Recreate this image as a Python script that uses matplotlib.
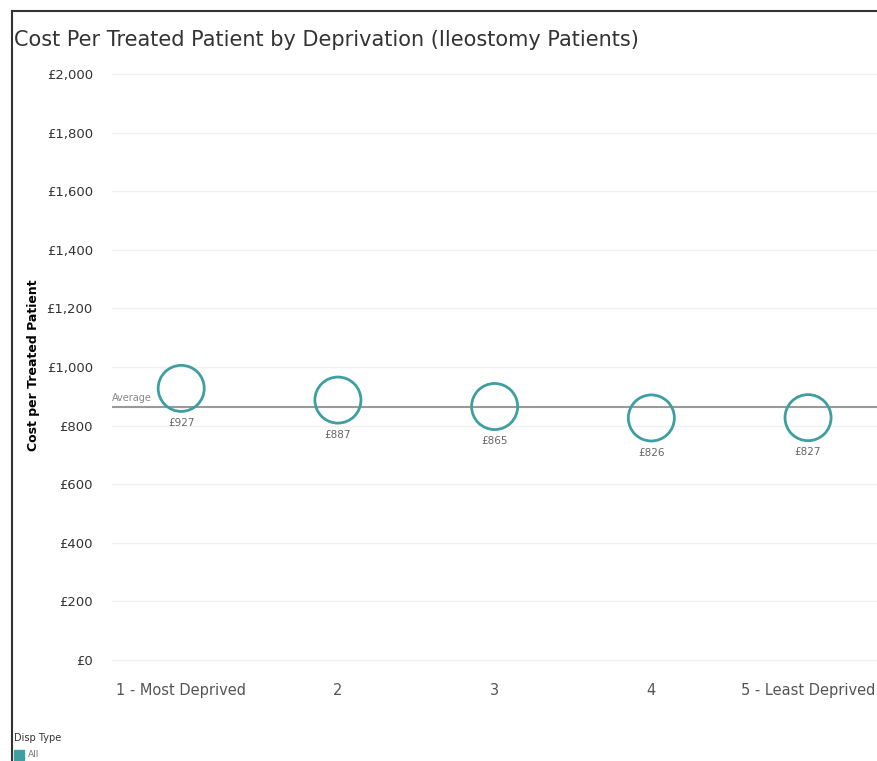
import numpy as np
import matplotlib.pyplot as plt
from matplotlib.lines import Line2D
from matplotlib.patches import Rectangle

categories = ["1 - Most Deprived", "2", "3", "4", "5 - Least Deprived"]
cost = [927, 887, 865, 826, 827]
labels = ["£927", "£887", "£865", "£826", "£827"]
average = 864
yticks = [0, 200, 400, 600, 800, 1000, 1200, 1400, 1600, 1800, 2000]

teal = "#3e9ea0"
grey = "#555555"

fig = plt.figure(figsize=(8.77, 7.61), dpi=100)
ax = fig.add_axes([0.128, 0.117, 0.872, 0.805])

x = np.arange(len(categories))
ax.scatter(x, cost, s=1100, facecolors="none", edgecolors=teal, linewidths=2, zorder=3)
for xi, yi, lab in zip(x, cost, labels):
    ax.annotate(lab, (xi, yi), xytext=(0, -25), textcoords="offset points",
                ha="center", va="center", fontsize=7.5, color="#666666")

ax.axhline(average, color="#999999", lw=1.5, zorder=2)
ax.annotate("Average", (-0.44, average), xytext=(0, 6), textcoords="offset points",
            ha="left", va="center", fontsize=7, color="#888888")

ax.set_xlim(-0.44, 4.44)
ax.set_ylim(-41, 2050)
ax.set_xticks(x)
ax.set_xticklabels(categories, fontsize=10.5, color=grey)
ax.set_yticks(yticks)
ax.set_yticklabels(["£{:,}".format(v) for v in yticks], fontsize=9.5, color="#333333")
ax.tick_params(length=0, pad=14)
ax.tick_params(axis="x", pad=8)
ax.grid(axis="y", color="#f0f0f0", lw=1)
ax.set_axisbelow(True)
for s in ax.spines.values():
    s.set_visible(False)
ax.set_ylabel("Cost per Treated Patient", fontsize=9, fontweight="bold")
ax.yaxis.set_label_coords(-0.095, 0.5)

fig.text(0.016, 0.948, "Cost Per Treated Patient by Deprivation (Ileostomy Patients)",
         fontsize=15, color="#333333", ha="left", va="center", fontweight="medium")

# window border
fig.add_artist(Line2D([0.014, 1.0], [0.985, 0.985], color="#333333", lw=1.5))
fig.add_artist(Line2D([0.014, 0.014], [0.0, 0.985], color="#333333", lw=1.5))

# legend
fig.text(0.016, 0.030, "Disp Type", fontsize=7, color="#333333", ha="left", va="center")
fig.add_artist(Rectangle((0.016, 0.001), 0.011, 0.013, color=teal, transform=fig.transFigure))
fig.text(0.032, 0.008, "All", fontsize=6.5, color="#777777", ha="left", va="center")

plt.savefig("out.png", dpi=100)
